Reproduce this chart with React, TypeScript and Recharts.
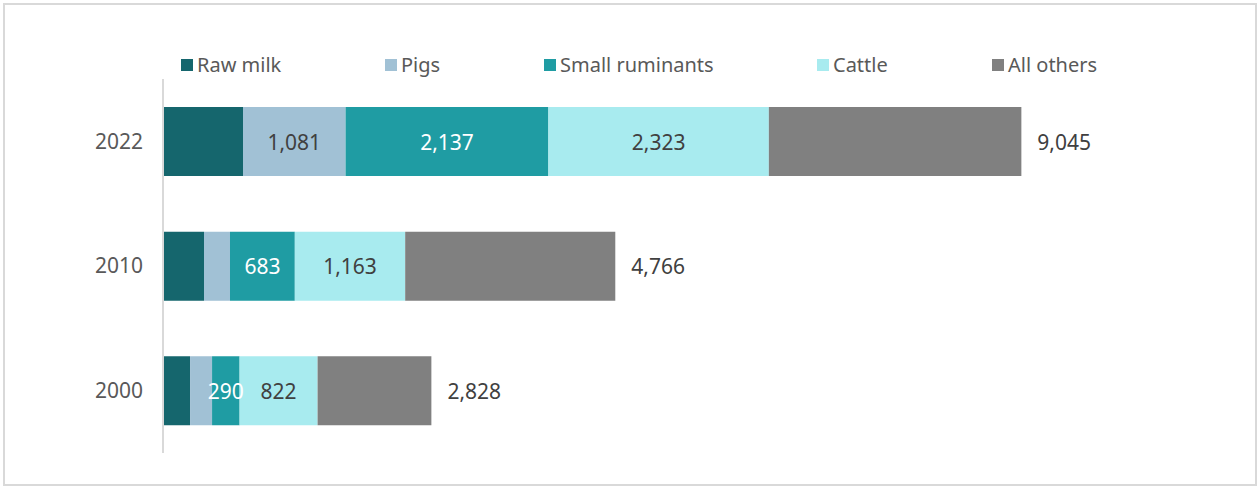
import React from "react";
import { BarChart, Bar, XAxis, YAxis, LabelList } from "recharts";

const years = ["2022", "2010", "2000"];
const rawMilk = [843, 432, 285];
const pigs = [1081, 274, 232];
const smallRuminants = [2137, 683, 290];
const cattle = [2323, 1163, 822];
const allOthers = [2661, 2214, 1199];
const totals = [9045, 4766, 2828];

// which segment values carry a label in the original (null = hidden)
const pigsLabels = [1081, null, null];
const smallRuminantsLabels = [2137, 683, 290];
const cattleLabels = [2323, 1163, 822];

const FONT = "'Noto Sans', sans-serif";

const series = [
  { key: "rawMilk", name: "Raw milk", color: "#15666d", labelColor: "#ffffff", width: 204 },
  { key: "pigs", name: "Pigs", color: "#a1c1d5", labelColor: "#404040", width: 159 },
  { key: "smallRuminants", name: "Small ruminants", color: "#1f9ca3", labelColor: "#ffffff", width: 273 },
  { key: "cattle", name: "Cattle", color: "#a8ebef", labelColor: "#404040", width: 175 },
  { key: "allOthers", name: "All others", color: "#808080", labelColor: "#ffffff", width: 140 },
];

const data = years.map((y, i) => ({
  year: y,
  rawMilk: rawMilk[i],
  pigs: pigs[i],
  smallRuminants: smallRuminants[i],
  cattle: cattle[i],
  allOthers: allOthers[i],
  total: totals[i],
  pigsLabel: pigsLabels[i],
  smallRuminantsLabel: smallRuminantsLabels[i],
  cattleLabel: cattleLabels[i],
}));

const fmt = (v: number) => new Intl.NumberFormat("en-US").format(v);

const segmentLabel = (color: string) => (props: any) => {
  const { x, y, width, height, value } = props;
  if (value == null) return null;
  return (
    <text
      x={Number(x) + Number(width) / 2}
      y={Number(y) + Number(height) / 2}
      fill={color}
      fontSize={21}
      fontFamily={FONT}
      textAnchor="middle"
      dominantBaseline="central"
    >
      {fmt(value)}
    </text>
  );
};

const totalLabel = (props: any) => {
  const { x, y, width, height, value } = props;
  return (
    <text
      x={Number(x) + Number(width) + 16}
      y={Number(y) + Number(height) / 2}
      fill="#404040"
      fontSize={21}
      fontFamily={FONT}
      textAnchor="start"
      dominantBaseline="central"
    >
      {fmt(value)}
    </text>
  );
};

export default function App() {
  return (
    <div
      style={{
        position: "fixed",
        left: 0,
        top: 0,
        width: 1258,
        height: 487,
        background: "#ffffff",
      }}
    >
      <div
        style={{
          position: "absolute",
          left: 3,
          top: 3,
          width: 1250,
          height: 479,
          border: "2px solid #d9d9d9",
        }}
      />

      {/* Legend row */}
      <div
        style={{
          position: "absolute",
          left: 181,
          top: 52,
          display: "flex",
          fontFamily: FONT,
          fontSize: 20,
          color: "#595959",
          lineHeight: "26px",
        }}
      >
        {series.map((s) => (
          <div key={s.key} style={{ width: s.width, display: "flex", alignItems: "center" }}>
            <span style={{ width: 12, height: 12, background: s.color, marginRight: 4, display: "inline-block" }} />
            <span>{s.name}</span>
          </div>
        ))}
      </div>

      <div style={{ position: "absolute", left: 0, top: 0 }}>
        <BarChart
          width={1258}
          height={487}
          data={data}
          layout="vertical"
          margin={{ top: 79, right: 146, left: 83, bottom: 34 }}
        >
          <XAxis type="number" domain={[0, 10000]} hide />
          <YAxis
            type="category"
            dataKey="year"
            width={80}
            axisLine={{ stroke: "#d9d9d9", strokeWidth: 2 }}
            tickLine={false}
            tickSize={0}
            tickMargin={20}
            tick={{ fill: "#595959", fontSize: 21, fontFamily: FONT }}
          />
          <Bar dataKey="rawMilk" stackId="a" fill={series[0].color} barSize={69} isAnimationActive={false} />
          <Bar dataKey="pigs" stackId="a" fill={series[1].color} barSize={69} isAnimationActive={false}>
            <LabelList dataKey="pigsLabel" content={segmentLabel(series[1].labelColor)} />
          </Bar>
          <Bar dataKey="smallRuminants" stackId="a" fill={series[2].color} barSize={69} isAnimationActive={false}>
            <LabelList dataKey="smallRuminantsLabel" content={segmentLabel(series[2].labelColor)} />
          </Bar>
          <Bar dataKey="cattle" stackId="a" fill={series[3].color} barSize={69} isAnimationActive={false}>
            <LabelList dataKey="cattleLabel" content={segmentLabel(series[3].labelColor)} />
          </Bar>
          <Bar dataKey="allOthers" stackId="a" fill={series[4].color} barSize={69} isAnimationActive={false}>
            <LabelList dataKey="total" content={totalLabel} />
          </Bar>
        </BarChart>
      </div>
    </div>
  );
}
